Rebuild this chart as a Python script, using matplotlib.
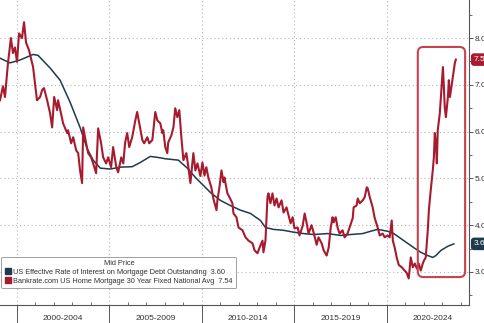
import matplotlib
matplotlib.use("Agg")
import matplotlib.pyplot as plt
from matplotlib.patches import FancyBboxPatch
from matplotlib.lines import Line2D
import matplotlib.transforms as mtransforms

# Data (decimal years, percent)
bankrate_years = [
    1999.08, 1999.24, 1999.35, 1999.51, 1999.67, 1999.78, 1999.89, 2000.00, 2000.11, 2000.27,
    2000.38, 2000.49, 2000.65, 2000.87, 2000.98, 2001.08, 2001.25, 2001.36, 2001.46, 2001.63,
    2001.79, 2001.90, 2002.01, 2002.17, 2002.22, 2002.38, 2002.49, 2002.71, 2002.76, 2002.93,
    2003.04, 2003.20, 2003.31, 2003.41, 2003.52, 2003.58, 2003.74, 2003.85, 2004.01, 2004.12,
    2004.28, 2004.39, 2004.55, 2004.66, 2004.82, 2004.93, 2005.09, 2005.20, 2005.37, 2005.47,
    2005.64, 2005.75, 2005.85, 2005.96, 2006.07, 2006.23, 2006.40, 2006.50, 2006.61, 2006.78,
    2006.88, 2007.05, 2007.15, 2007.32, 2007.48, 2007.59, 2007.75, 2007.86, 2007.91, 2008.02,
    2008.13, 2008.18, 2008.35, 2008.46, 2008.56, 2008.67, 2008.78, 2008.89, 2009.00, 2009.16,
    2009.27, 2009.38, 2009.54, 2009.65, 2009.76, 2009.92, 2010.03, 2010.14, 2010.24, 2010.35,
    2010.51, 2010.62, 2010.79, 2010.84, 2010.95, 2011.06, 2011.17, 2011.22, 2011.38, 2011.49,
    2011.65, 2011.71, 2011.87, 2011.98, 2012.20, 2012.36, 2012.52, 2012.74, 2012.85, 2013.01,
    2013.12, 2013.28, 2013.33, 2013.44, 2013.55, 2013.60, 2013.71, 2013.82, 2013.93, 2014.04,
    2014.15, 2014.31, 2014.42, 2014.58, 2014.69, 2014.80, 2014.91, 2015.01, 2015.18, 2015.28,
    2015.45, 2015.56, 2015.66, 2015.77, 2015.93, 2016.04, 2016.21, 2016.31, 2016.48, 2016.59,
    2016.75, 2016.86, 2016.97, 2017.07, 2017.13, 2017.24, 2017.34, 2017.45, 2017.61, 2017.72,
    2017.88, 2017.99, 2018.16, 2018.21, 2018.37, 2018.43, 2018.54, 2018.70, 2018.81, 2018.92,
    2018.97, 2019.08, 2019.24, 2019.35, 2019.51, 2019.62, 2019.78, 2019.89, 2020.05, 2020.16,
    2020.27, 2020.33, 2020.43, 2020.54, 2020.65, 2020.81, 2020.92, 2021.08, 2021.19, 2021.30,
    2021.41, 2021.52, 2021.63, 2021.73, 2021.84, 2021.95, 2022.01, 2022.11, 2022.22, 2022.28,
    2022.38, 2022.49, 2022.55, 2022.60, 2022.66, 2022.71, 2022.76, 2022.87, 2022.98, 2023.04,
    2023.09, 2023.14, 2023.20, 2023.31, 2023.36, 2023.42, 2023.53, 2023.63, 2023.69, 2023.74,
]
bankrate_values = [
    6.67, 6.97, 6.74, 7.46, 8.00, 7.68, 7.80, 7.49, 8.10, 8.00,
    8.34, 7.90, 7.74, 7.38, 7.00, 6.67, 6.74, 6.89, 6.93, 6.67,
    6.39, 6.09, 6.74, 6.46, 6.67, 6.39, 6.18, 5.97, 6.03, 5.75,
    5.88, 5.60, 5.54, 5.17, 4.90, 6.09, 5.75, 5.54, 5.45, 5.32,
    5.11, 6.07, 5.75, 5.45, 5.32, 5.45, 5.24, 5.67, 5.24, 5.13,
    5.45, 5.32, 5.77, 5.97, 5.67, 5.88, 6.24, 6.42, 6.18, 5.82,
    5.75, 5.88, 5.75, 5.82, 6.42, 6.24, 6.18, 5.97, 6.03, 5.67,
    5.54, 5.77, 5.92, 6.09, 6.50, 6.31, 6.46, 5.88, 5.39, 5.54,
    5.24, 4.90, 5.54, 5.17, 5.32, 5.05, 5.34, 5.06, 5.24, 5.02,
    4.81, 4.57, 4.32, 4.53, 4.81, 5.17, 4.92, 5.02, 4.68, 4.60,
    4.47, 4.25, 4.17, 3.95, 3.89, 3.74, 3.67, 3.61, 3.46, 3.40,
    3.52, 3.67, 3.42, 3.67, 4.60, 4.68, 4.47, 4.68, 4.42, 4.57,
    4.38, 4.53, 4.27, 4.38, 4.21, 4.04, 4.17, 3.93, 3.95, 3.78,
    3.98, 4.25, 4.06, 3.82, 4.00, 3.85, 3.58, 3.74, 3.61, 3.46,
    3.35, 3.52, 3.95, 4.17, 4.06, 4.17, 3.95, 3.82, 3.89, 3.74,
    3.82, 3.95, 4.15, 4.38, 4.42, 4.57, 4.47, 4.53, 4.60, 4.81,
    4.79, 4.60, 4.38, 4.15, 3.95, 3.78, 3.82, 3.74, 3.78, 3.74,
    4.10, 3.67, 3.52, 3.31, 3.15, 3.10, 3.05, 2.98, 2.86, 3.31,
    3.10, 3.18, 3.07, 3.18, 3.03, 3.18, 3.24, 3.31, 3.89, 4.32,
    4.75, 5.17, 5.45, 5.97, 5.75, 5.32, 6.03, 6.39, 7.04, 7.38,
    6.95, 6.52, 6.31, 6.74, 7.10, 6.74, 7.04, 7.31, 7.48, 7.54,
]

effective_years = [
    1999.08, 1999.62, 2000.16, 2000.87, 2001.14, 2001.79, 2002.33, 2002.87, 2003.41, 2003.79,
    2004.12, 2004.50, 2005.04, 2005.58, 2006.23, 2006.67, 2007.21, 2007.59, 2008.02, 2008.73,
    2009.21, 2009.65, 2010.08, 2010.46, 2011.00, 2011.54, 2012.09, 2012.63, 2013.17, 2013.44,
    2013.87, 2014.42, 2014.96, 2015.50, 2016.04, 2016.80, 2017.51, 2018.05, 2018.70, 2019.13,
    2019.51, 2020.05, 2020.38, 2020.92, 2021.46, 2021.84, 2022.22, 2022.49, 2022.66, 2022.93,
    2023.31, 2023.63,
]
effective_values = [
    7.57, 7.47, 7.53, 7.65, 7.63, 7.36, 7.10, 6.63, 6.09, 5.64,
    5.39, 5.22, 5.20, 5.24, 5.25, 5.34, 5.47, 5.45, 5.42, 5.39,
    5.22, 5.02, 4.85, 4.70, 4.53, 4.42, 4.32, 4.25, 4.10, 3.95,
    3.91, 3.89, 3.85, 3.82, 3.80, 3.82, 3.78, 3.80, 3.82, 3.87,
    3.91, 3.87, 3.82, 3.67, 3.52, 3.42, 3.35, 3.31, 3.35, 3.46,
    3.55, 3.60,
]

period_starts = [2000, 2005, 2010, 2015, 2020]
period_labels = ["2000-2004", "2005-2009", "2010-2014", "2015-2019", "2020-2024"]
y_ticks = [3, 4, 5, 6, 7, 8]
legend_labels = [
    "US Effective Rate of Interest on Mortgage Debt Outstanding",
    "Bankrate.com US Home Mortgage 30 Year Fixed National Avg",
]
last_values = [3.60, 7.54]
highlight_years = [2021.68, 2024.24]
highlight_range = [2.89, 7.81]

red = "#A81A2E"
blue = "#1D3A4E"
grid_c = "#B5B5B5"
text_c = "#333333"

plt.rcParams["font.family"] = ["Liberation Sans", "DejaVu Sans"]

fig = plt.figure(figsize=(4.85, 3.23), dpi=100)
ax = fig.add_axes([0.0, 1 - 305 / 323, 469 / 485, 305 / 323])

ax.plot(effective_years, effective_values, color=blue, lw=1.1, zorder=3)
ax.plot(bankrate_years, bankrate_values, color=red, lw=1.5, zorder=4)

ax.set_xlim(1999.08, 2024.45)
ax.set_ylim(2.293, 8.814)

# grid
for y in y_ticks:
    ax.axhline(y, color=grid_c, lw=0.8, ls=(0, (1, 2.5)), zorder=1)
for x in period_starts:
    ax.axvline(x, color=grid_c, lw=0.8, ls=(0, (1, 2.5)), zorder=1)

# spines
for s in ["top", "left"]:
    ax.spines[s].set_visible(False)
for s in ["bottom", "right"]:
    ax.spines[s].set_color("#555555")
    ax.spines[s].set_linewidth(0.8)

# y axis on right
ax.yaxis.tick_right()
ax.set_yticks(y_ticks)
ax.set_yticklabels([f"{v:.2f}" for v in y_ticks])
ax.set_yticks([v + 0.5 for v in [2] + y_ticks], minor=True)
ax.tick_params(axis="y", which="major", direction="out", length=3, width=0.7,
               color="#555555", labelsize=6, labelcolor=text_c, pad=1)
ax.tick_params(axis="y", which="minor", direction="out", length=2, width=0.6, color="#555555")

# x axis: separators, yearly minor ticks, period labels
ax.set_xticks(period_starts)
ax.set_xticklabels([])
ax.set_xticks(list(range(2000, 2025)), minor=True)
ax.tick_params(axis="x", which="major", direction="out", length=14, width=0.7, color="#555555")
ax.tick_params(axis="x", which="minor", direction="in", length=2.5, width=0.6, color="#555555")
trans = mtransforms.blended_transform_factory(ax.transData, ax.transAxes)
for start, lab in zip(period_starts, period_labels):
    ax.text(start + 2.5, -0.045, lab, transform=trans, ha="center", va="center",
            fontsize=6, color=text_c)

# highlight box
box = FancyBboxPatch((highlight_years[0], highlight_range[0]),
                     highlight_years[1] - highlight_years[0],
                     highlight_range[1] - highlight_range[0],
                     boxstyle="round,pad=0,rounding_size=0.3", mutation_aspect=0.4,
                     fill=False, edgecolor="#C8424D", lw=1.5, zorder=5)
ax.add_patch(box)

# last value tags
ytrans = mtransforms.blended_transform_factory(ax.transAxes, ax.transData)
for val, col in zip(last_values, [blue, red]):
    ax.text(1.01, val, f"{val:.2f}", transform=ytrans, ha="left", va="center",
            fontsize=6, color="white", clip_on=False, zorder=6,
            bbox=dict(boxstyle="round,pad=0.25,rounding_size=0.3", fc=col, ec=col))

# legend
handles = [Line2D([], [], marker="s", ls="none", color=c, markersize=4.5) for c in [blue, red]]
labels = [f"{l}  {v:.2f}" for l, v in zip(legend_labels, last_values)]
leg = ax.legend(handles, labels, title="Mid Price", loc="lower left",
                bbox_to_anchor=(0.003, 0.055), fontsize=5.3, title_fontsize=5.3,
                frameon=True, fancybox=True, handlelength=0.8, handletextpad=0.3,
                borderpad=0.5, labelspacing=0.2, borderaxespad=0)
leg.get_frame().set_edgecolor("#888888")
leg.get_frame().set_linewidth(0.7)
for t in leg.get_texts():
    t.set_color(text_c)
leg.get_title().set_color(text_c)

fig.savefig("out.png", dpi=100)
